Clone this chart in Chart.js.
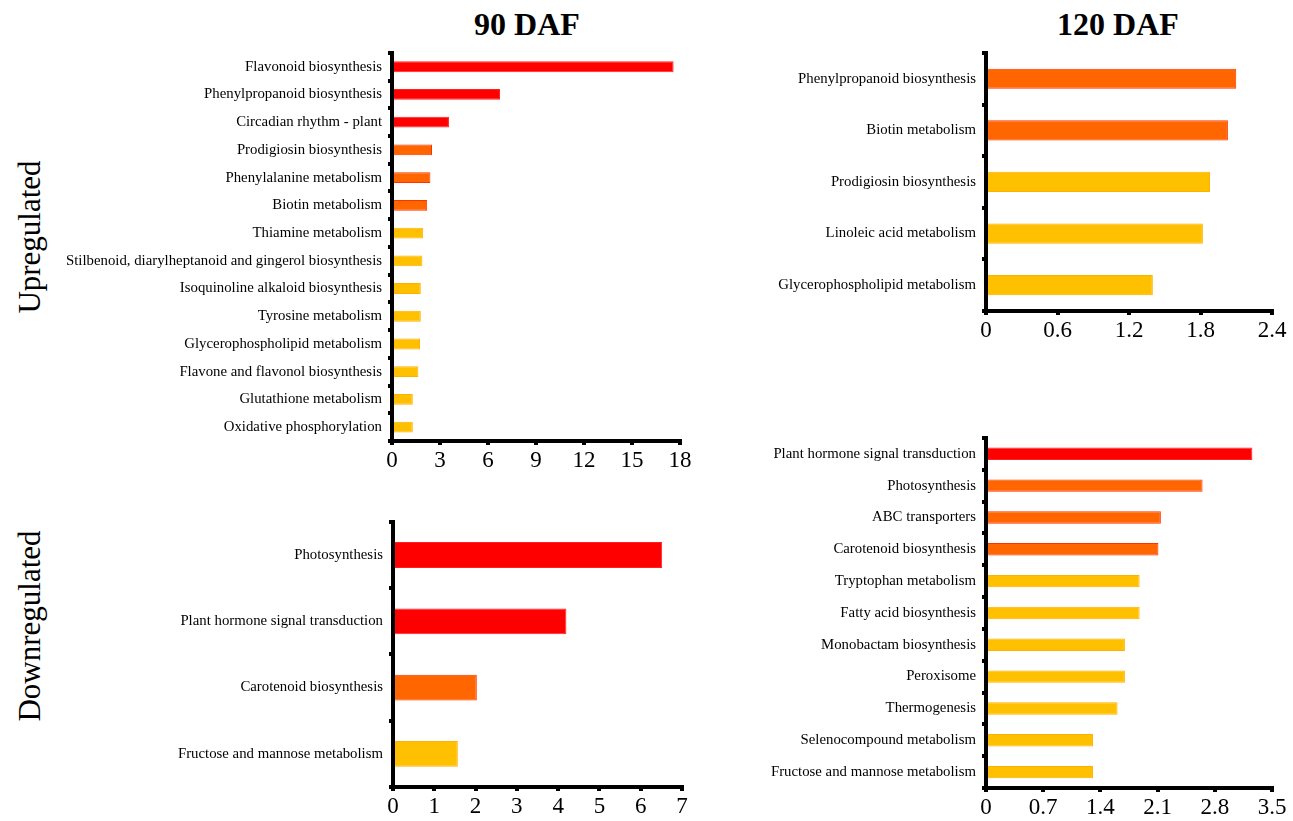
<!DOCTYPE html>
<html>
<head>
<meta charset="utf-8">
<script src="https://cdn.jsdelivr.net/npm/chart.js@4.4.0/dist/chart.umd.min.js"></script>
<style>
  html, body { margin: 0; padding: 0; background: #fff; overflow: hidden; }
  body { width: 1293px; height: 821px; position: relative; font-family: "Liberation Serif", serif; }
  canvas { position: absolute; }
  .title { position: absolute; font-size: 32px; font-weight: bold; color: #000; white-space: nowrap; transform: translateX(-50%); }
  .side { position: absolute; font-size: 31px; color: #000; white-space: nowrap; transform: translate(-50%, -50%) rotate(-90deg); }
</style>
</head>
<body>
<div class="title" style="left:527px; top:6px;">90 DAF</div>
<div class="title" style="left:1118px; top:6px;">120 DAF</div>
<div class="side" style="left:30px; top:237px;">Upregulated</div>
<div class="side" style="left:30px; top:626px;">Downregulated</div>

<canvas id="up90" width="660" height="440" style="left:50px; top:38px;"></canvas>
<canvas id="up120" width="593" height="310" style="left:700px; top:38px;"></canvas>
<canvas id="down90" width="600" height="313" style="left:110px; top:507px;"></canvas>
<canvas id="down120" width="593" height="398" style="left:700px; top:423px;"></canvas>

<script>
// enriched KEGG pathways, 90 DAF upregulated
const up90Labels = [
  'Flavonoid biosynthesis', 'Phenylpropanoid biosynthesis', 'Circadian rhythm - plant',
  'Prodigiosin biosynthesis', 'Phenylalanine metabolism', 'Biotin metabolism',
  'Thiamine metabolism', 'Stilbenoid, diarylheptanoid and gingerol biosynthesis',
  'Isoquinoline alkaloid biosynthesis', 'Tyrosine metabolism',
  'Glycerophospholipid metabolism', 'Flavone and flavonol biosynthesis',
  'Glutathione metabolism', 'Oxidative phosphorylation'
];
const up90Values = [17.6, 6.75, 3.56, 2.5, 2.4, 2.2, 1.95, 1.9, 1.8, 1.8, 1.75, 1.65, 1.3, 1.3];
const up90Levels = [2, 2, 2, 1, 1, 1, 0, 0, 0, 0, 0, 0, 0, 0];
const up90Ticks = [0, 18, 3];

// 120 DAF upregulated
const up120Labels = [
  'Phenylpropanoid biosynthesis', 'Biotin metabolism', 'Prodigiosin biosynthesis',
  'Linoleic acid metabolism', 'Glycerophospholipid metabolism'
];
const up120Values = [2.1, 2.03, 1.88, 1.82, 1.4];
const up120Levels = [1, 1, 0, 0, 0];
const up120Ticks = [0, 2.4, 0.6];

// 90 DAF downregulated
const down90Labels = [
  'Photosynthesis', 'Plant hormone signal transduction',
  'Carotenoid biosynthesis', 'Fructose and mannose metabolism'
];
const down90Values = [6.52, 4.2, 2.03, 1.57];
const down90Levels = [2, 2, 1, 0];
const down90Ticks = [0, 7, 1];

// 120 DAF downregulated
const down120Labels = [
  'Plant hormone signal transduction', 'Photosynthesis', 'ABC transporters',
  'Carotenoid biosynthesis', 'Tryptophan metabolism', 'Fatty acid biosynthesis',
  'Monobactam biosynthesis', 'Peroxisome', 'Thermogenesis',
  'Selenocompound metabolism', 'Fructose and mannose metabolism'
];
const down120Values = [3.26, 2.65, 2.14, 2.11, 1.88, 1.88, 1.7, 1.7, 1.61, 1.31, 1.31];
const down120Levels = [2, 1, 1, 1, 0, 0, 0, 0, 0, 0, 0];
const down120Ticks = [0, 3.5, 0.7];

// fill / edge colour by significance level (0 = yellow, 1 = orange, 2 = red)
const fillColors = ['#FFC000', '#FF6600', '#FF0000'];
const edgeColors = ['#FFB000', '#FF3300', '#FF2020'];

function makeChart(id, labels, values, levels, ticks, box) {
  const axisGrid = {
    drawOnChartArea: false,
    drawTicks: true,
    tickLength: 4,
    color: '#000',
    lineWidth: 4
  };
  return new Chart(document.getElementById(id).getContext('2d'), {
    type: 'bar',
    data: {
      labels: labels,
      datasets: [{
        data: values,
        backgroundColor: levels.map(l => fillColors[l]),
        borderColor: levels.map(l => edgeColors[l]),
        borderWidth: 1,
        barPercentage: 0.39,
        categoryPercentage: 1
      }]
    },
    options: {
      indexAxis: 'y',
      responsive: false,
      animation: false,
      devicePixelRatio: 1,
      layout: { padding: { top: box.top, right: box.right, left: 0, bottom: 0 } },
      plugins: { legend: { display: false }, tooltip: { enabled: false } },
      scales: {
        x: {
          type: 'linear',
          min: ticks[0],
          max: ticks[1],
          grid: axisGrid,
          border: { color: '#000', width: 4 },
          ticks: {
            stepSize: ticks[2],
            color: '#000',
            padding: 2,
            maxRotation: 0,
            font: { family: 'Liberation Serif', size: 23 }
          },
          afterFit: s => { s.height = box.xh; }
        },
        y: {
          grid: axisGrid,
          border: { color: '#000', width: 4 },
          ticks: {
            color: '#000',
            padding: 6,
            autoSkip: false,
            font: { family: 'Liberation Serif', size: 14.8 }
          },
          afterFit: s => { s.width = box.yw; }
        }
      }
    }
  });
}

makeChart('up90', up90Labels, up90Values, up90Levels, up90Ticks, { top: 10, right: 30, xh: 37, yw: 342 });
makeChart('up120', up120Labels, up120Values, up120Levels, up120Ticks, { top: 10, right: 21, xh: 37, yw: 286 });
makeChart('down90', down90Labels, down90Values, down90Levels, down90Ticks, { top: 10, right: 28, xh: 33, yw: 283 });
makeChart('down120', down120Labels, down120Values, down120Levels, down120Ticks, { top: 10, right: 21, xh: 33, yw: 286 });
</script>
</body>
</html>
